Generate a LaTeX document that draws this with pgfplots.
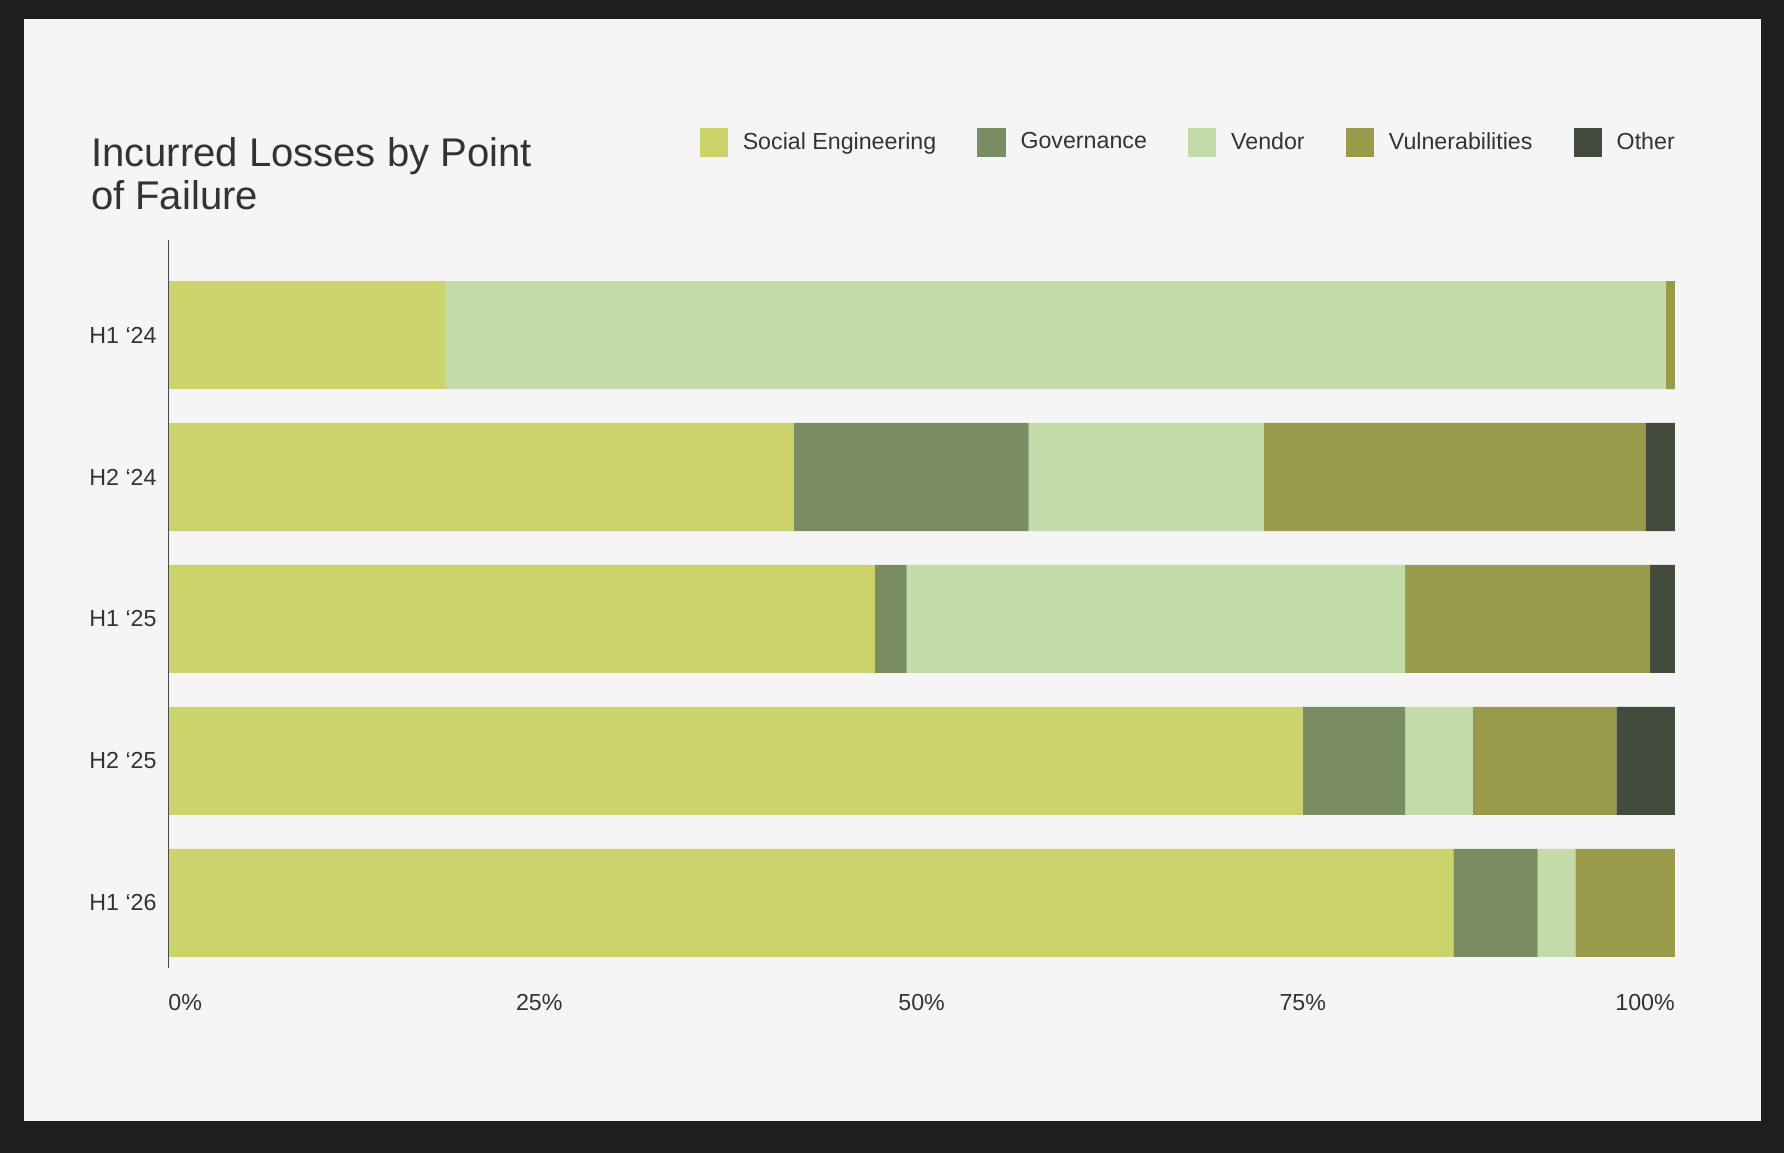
\documentclass[border=0pt]{standalone}
\usepackage{fontspec}
\setmainfont{Liberation Sans}
\usepackage{pgfplots}
\pgfplotsset{compat=1.18}
\definecolor{se}{HTML}{CDD36B}
\definecolor{gov}{HTML}{7A8C62}
\definecolor{vendor}{HTML}{C3DAA9}
\definecolor{vuln}{HTML}{9A9A4B}
\definecolor{other}{HTML}{434B3C}
\definecolor{panel}{HTML}{F5F5F5}
\definecolor{border}{HTML}{1E1E1E}
\definecolor{txt}{HTML}{333333}
\definecolor{axisgray}{HTML}{4A4A4A}
\begin{document}
\begin{tikzpicture}
\fill[border] (0pt,0pt) rectangle (784pt,-506.5pt);
\fill[panel] (10.5pt,-8.5pt) rectangle (774pt,-492.5pt);
\node[anchor=base west, inner sep=0pt, text=txt, font=\fontsize{17.6}{20}\selectfont] at (39.8pt,-73.25pt) {Incurred Losses by Point};
\node[anchor=base west, inner sep=0pt, text=txt, font=\fontsize{17.6}{20}\selectfont] at (39.8pt,-92pt) {of Failure};
\begin{axis}[
  at={(74pt,-425.5pt)}, anchor=south west,
  scale only axis, width=662pt, height=320pt,
  xbar stacked, bar width=47.5pt,
  xmin=0, xmax=100, ymin=-0.669, ymax=4.461, y dir=reverse,
  axis line style={draw=none}, tick style={draw=none},
  axis on top,
  xtick={0,25,50,75,100},
  xticklabels={\rlap{0\%},\hspace*{-5pt}25\%,50\%,\hspace*{4pt}75\%,\llap{100\%}},
  extra x ticks={0}, extra x tick labels={},
  extra x tick style={grid=major, major grid style={draw=axisgray, line width=0.55pt}},
  ytick={0,1,2,3,4},
  yticklabels={H1 ‘24,H2 ‘24,H1 ‘25,H2 ‘25,H1 ‘26},
  xticklabel style={anchor=base, inner sep=0pt, yshift=-18.5pt, text=txt, font=\fontsize{10.2}{12}\selectfont},
  yticklabel style={anchor=east, inner sep=0pt, xshift=-5pt, text=txt, font=\fontsize{10.2}{12}\selectfont},
  /pgf/number format/assume math mode=true,
  legend columns=5,
  legend style={at={(1,1)}, anchor=east, yshift=42.9pt, draw=none, fill=none,
    inner sep=0pt, outer sep=0pt, text=txt, font=\fontsize{10.2}{12}\selectfont,
    nodes={inner sep=0pt}, column sep=6.5pt,
    /tikz/every even column/.append style={column sep=18pt}},
  legend image code/.code={\fill[#1] (0pt,-6.25pt) rectangle (12.5pt,6.25pt);},
]
\addplot[fill=se, draw=none] coordinates {(18.4,0) (41.5,1) (46.9,2) (75.3,3) (85.3,4)};
\addplot[fill=gov, draw=none] coordinates {(0,0) (15.6,1) (2.1,2) (6.8,3) (5.6,4)};
\addplot[fill=vendor, draw=none] coordinates {(81.0,0) (15.6,1) (33.1,2) (4.5,3) (2.5,4)};
\addplot[fill=vuln, draw=none] coordinates {(0.6,0) (25.35,1) (16.25,2) (9.53,3) (6.6,4)};
\addplot[fill=other, draw=none] coordinates {(0,0) (1.95,1) (1.75,2) (3.87,3) (0,4)};
\legend{Social Engineering,Governance,Vendor,Vulnerabilities,Other}
\end{axis}
\end{tikzpicture}
\end{document}
